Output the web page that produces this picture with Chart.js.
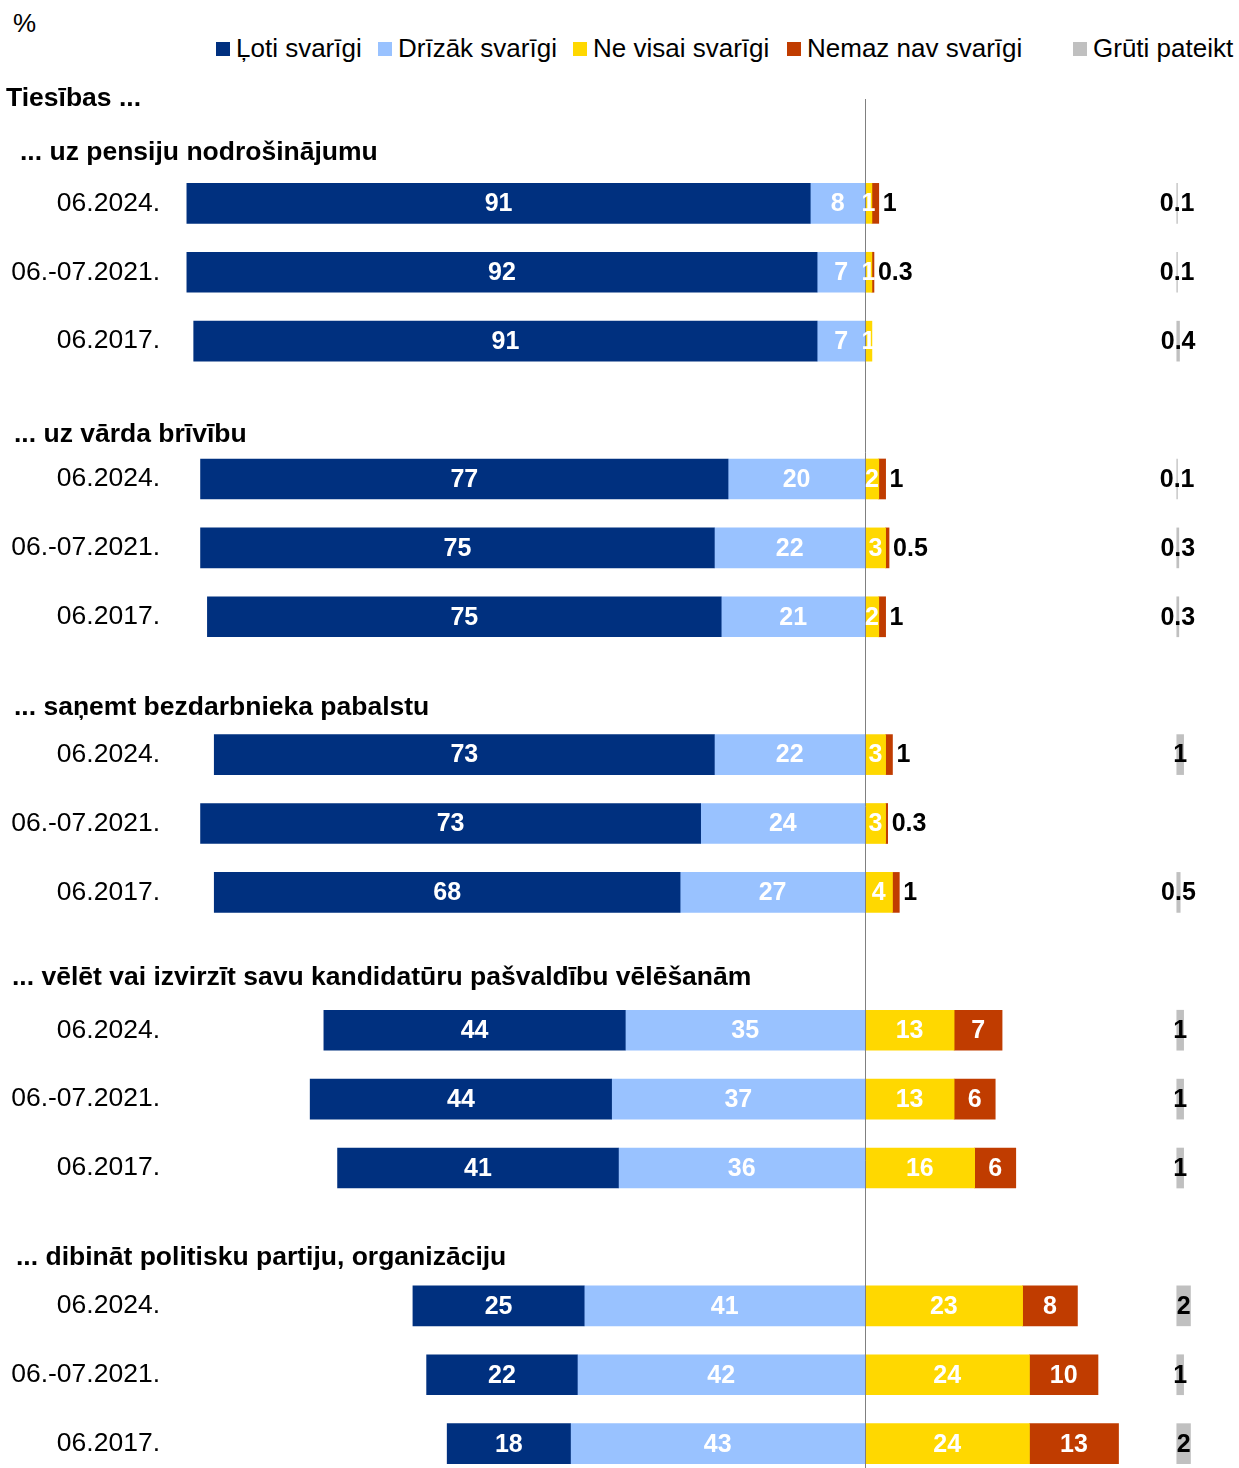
<!DOCTYPE html>
<html>
<head>
<meta charset="utf-8">
<script src="https://cdn.jsdelivr.net/npm/chart.js@4.4.0/dist/chart.umd.min.js"></script>
<style>
  html, body { margin: 0; padding: 0; background: #fff; overflow: hidden; }
  body { width: 1239px; height: 1468px; position: relative; font-family: 'Liberation Sans', Arial, sans-serif; color: #000; }
  #wrap { position: absolute; left: 0; top: 0; }
  .pct { position: absolute; left: 13px; top: 8px; font-size: 26px; line-height: 30px; }
  .lg-text { position: absolute; top: 33px; font-size: 26px; line-height: 30px; white-space: nowrap; }
  .lg-box { position: absolute; top: 42px; width: 14px; height: 14px; }
</style>
</head>
<body>
<div class="pct">%</div>
<div id="legend"></div>
<div id="wrap"><canvas id="chart" width="1239" height="1514"></canvas></div>
<script>
// survey waves and topics
const groups = [
  '... uz pensiju nodrošinājumu',
  '... uz vārda brīvību',
  '... saņemt bezdarbnieka pabalstu',
  '... vēlēt vai izvirzīt savu kandidatūru pašvaldību vēlēšanām',
  '... dibināt politisku partiju, organizāciju'
];
const waves = ['06.2024.', '06.-07.2021.', '06.2017.'];
const seriesNames = ['Ļoti svarīgi', 'Drīzāk svarīgi', 'Ne visai svarīgi', 'Nemaz nav svarīgi', 'Grūti pateikt'];

// values in %, three waves per topic
const veryImportant   = [91, 92, 91,  77, 75, 75,  73, 73, 68,  44, 44, 41,  25, 22, 18];
const ratherImportant = [8, 7, 7,     20, 22, 21,  22, 24, 27,  35, 37, 36,  41, 42, 43];
const notVery         = [1, 1, 1,     2, 3, 2,     3, 3, 4,     13, 13, 16,  23, 24, 24];
const notAtAll        = [1, 0.3, null, 1, 0.5, 1,  1, 0.3, 1,   7, 6, 6,     8, 10, 13];
const hardToSay       = [0.1, 0.1, 0.4, 0.1, 0.3, 0.3, 1, null, 0.5, 1, 1, 1, 2, 1, 2];

const colors = ['#00307f', '#99c2ff', '#ffd800', '#c03c00', '#c0c0c0'];

// layout bits
const GREY_START = 45.5;           // where the "Grūti pateikt" column starts on the x scale
const legendX = [216, 378, 573, 787, 1073];
const headerX = [20, 14, 14, 12, 16];
const headerShift = [18, 25, 22, 16, 21];
const FONT = '"Liberation Sans", Arial, sans-serif';

// build category slots: one empty slot before each topic
const labels = [];
groups.forEach(() => { labels.push(''); waves.forEach(w => labels.push(w)); });

function slots(arr) {
  const out = [];
  groups.forEach((g, gi) => {
    out.push(null);
    waves.forEach((w, wi) => out.push(arr[gi * 3 + wi]));
  });
  return out;
}

const a = slots(veryImportant), b = slots(ratherImportant), c = slots(notVery),
      d = slots(notAtAll), e = slots(hardToSay);

const ranges = [
  a.map((v, i) => v == null ? null : [-(v + b[i]), -b[i]]),
  b.map(v => v == null ? null : [-v, 0]),
  c.map(v => v == null ? null : [0, v]),
  d.map((v, i) => v == null ? null : [c[i] || 0, (c[i] || 0) + v]),
  e.map(v => v == null ? null : [GREY_START, GREY_START + v])
];
const shown = [a, b, c, d, e];

const datasets = seriesNames.map((name, i) => ({
  label: name,
  data: ranges[i],
  values: shown[i],
  backgroundColor: colors[i],
  borderWidth: 0,
  grouped: false,
  barThickness: 40,
  outside: i === 3,
  grey: i === 4
}));

// legend
const lg = document.getElementById('legend');
seriesNames.forEach((name, i) => {
  lg.innerHTML += `<div class="lg-box" style="left:${legendX[i]}px;background:${colors[i]}"></div>` +
    `<div class="lg-text" style="left:${legendX[i] + 20}px">${name}</div>`;
});

const labelPlugin = {
  id: 'valueLabels',
  afterDatasetsDraw(chart) {
    const ctx = chart.ctx;
    const xs = chart.scales.x, ys = chart.scales.y;
    ctx.save();

    // centre line
    const x0 = Math.round(xs.getPixelForValue(0)) + 0.5;
    ctx.strokeStyle = '#808080';
    ctx.lineWidth = 1;
    ctx.beginPath();
    ctx.moveTo(x0, 99);
    ctx.lineTo(x0, chart.height);
    ctx.stroke();

    ctx.textBaseline = 'middle';
    ctx.font = 'bold 25px ' + FONT;
    chart.data.datasets.forEach((ds, di) => {
      const meta = chart.getDatasetMeta(di);
      meta.data.forEach((bar, i) => {
        const v = ds.values[i];
        if (v == null || ds.data[i] == null) return;
        const left = Math.min(bar.x, bar.base), right = Math.max(bar.x, bar.base);
        let tx = (left + right) / 2, align = 'center', color = '#fff';
        if (ds.outside && v <= 1) { tx = right + 4; align = 'left'; color = '#000'; }
        if (ds.grey) color = '#000';
        ctx.fillStyle = color;
        ctx.textAlign = align;
        ctx.fillText(String(v), tx, bar.y + 1);
      });
    });

    // topic headers
    ctx.fillStyle = '#000';
    ctx.textAlign = 'left';
    ctx.font = 'bold 26.5px ' + FONT;
    ctx.fillText('Tiesības ...', 6, 99);
    groups.forEach((g, gi) => {
      const y = ys.getPixelForValue(gi * 4) + headerShift[gi];
      ctx.fillText(g, headerX[gi], y);
    });
    ctx.restore();
  }
};

new Chart(document.getElementById('chart'), {
  type: 'bar',
  data: { labels, datasets },
  plugins: [labelPlugin],
  options: {
    indexAxis: 'y',
    responsive: false,
    animation: false,
    layout: { padding: { top: 100, bottom: 0, left: 0, right: 4 } },
    plugins: { legend: { display: false }, tooltip: { enabled: false } },
    scales: {
      x: { display: false, min: -100, max: 54 },
      y: {
        grid: { display: false, drawTicks: false },
        border: { display: false },
        ticks: { autoSkip: false, padding: 20, color: '#000', font: { size: 26.5, family: FONT } },
        afterFit(scale) { scale.width = 180; }
      }
    }
  }
});
</script>
</body>
</html>
